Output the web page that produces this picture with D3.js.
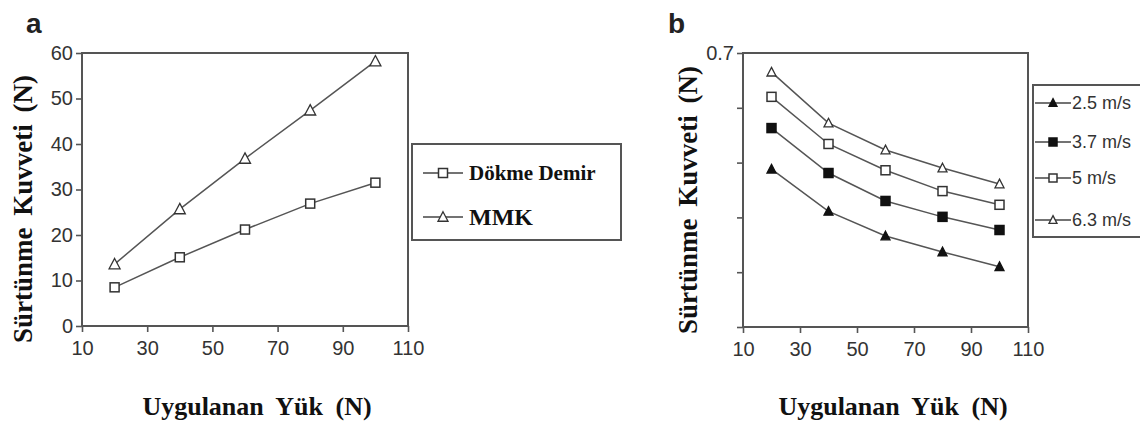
<!DOCTYPE html>
<html>
<head>
<meta charset="utf-8">
<script src="https://cdn.jsdelivr.net/npm/d3@7"></script>
<style>
  html, body { margin: 0; padding: 0; background: #fff; }
  svg { display: block; }
</style>
</head>
<body>
<div id="chart"></div>
<script>
// ---------- data ----------
var loadA = [20, 40, 60, 80, 100];
var dokmeDemir = [8.5, 15.1, 21.2, 26.9, 31.5];
var mmk = [13.6, 25.7, 36.8, 47.4, 58.2];
var xTicks = [10, 30, 50, 70, 90, 110];
var yTicksA = [0, 10, 20, 30, 40, 50, 60];

var loadB = [20, 40, 60, 80, 100];
var v25 = [0.488, 0.411, 0.366, 0.337, 0.310];
var v37 = [0.563, 0.481, 0.430, 0.401, 0.377];
var v50 = [0.620, 0.534, 0.486, 0.448, 0.423];
var v63 = [0.665, 0.572, 0.523, 0.490, 0.461];
var yTicksB = [0.2, 0.3, 0.4, 0.5, 0.6, 0.7];
var speedNames = ['2.5 m/s', '3.7 m/s', '5 m/s', '6.3 m/s'];

var W = 1140, H = 427;
var LINE = '#555', MARK = '#333', TXT = '#333';
var SANS = '"Liberation Sans", Arial, sans-serif';
var SERIF = '"Liberation Serif", "Times New Roman", serif';

var svg = d3.select('#chart').append('svg').attr('width', W).attr('height', H);
svg.append('rect').attr('width', W).attr('height', H).attr('fill', '#fff');

function marker(g, type, cx, cy, s) {
  if (type === 'sq' || type === 'sqf') {
    g.append('rect').attr('x', cx - s / 2).attr('y', cy - s / 2).attr('width', s).attr('height', s)
      .attr('fill', type === 'sqf' ? '#111' : '#fff').attr('stroke', type === 'sqf' ? '#111' : MARK).attr('stroke-width', 1.5);
  } else {
    var h = s * 0.85;
    g.append('path').attr('d', 'M' + cx + ',' + (cy - h / 2 - 1) + 'L' + (cx + s / 2) + ',' + (cy + h / 2) + 'L' + (cx - s / 2) + ',' + (cy + h / 2) + 'Z')
      .attr('fill', type === 'trf' ? '#111' : '#fff').attr('stroke', type === 'trf' ? '#111' : MARK).attr('stroke-width', 1.3).attr('stroke-linejoin', 'miter');
  }
}

function panel(opt) {
  var g = svg.append('g');
  var x = d3.scaleLinear().domain([10, 110]).range(opt.xr);
  var y = d3.scaleLinear().domain(opt.yd).range(opt.yr);

  // axes
  var ax = g.append('g').attr('transform', 'translate(0,' + opt.yr[0] + ')')
    .call(d3.axisBottom(x).tickValues(xTicks).tickSize(6).tickSizeOuter(0).tickPadding(9));
  var ay = g.append('g').attr('transform', 'translate(' + opt.xr[0] + ',0)')
    .call(d3.axisLeft(y).tickValues(opt.yTicks).tickSize(6).tickSizeOuter(0).tickPadding(3).tickFormat(opt.yFmt));
  [ax, ay].forEach(function (a) {
    a.select('.domain').remove();
    a.selectAll('line').attr('stroke', LINE).attr('stroke-width', 1.6);
    a.selectAll('text').attr('fill', TXT).attr('font-family', SANS).attr('font-size', 20);
  });
  // frame
  g.append('rect').attr('x', opt.xr[0]).attr('y', opt.yr[1]).attr('width', opt.xr[1] - opt.xr[0]).attr('height', opt.yr[0] - opt.yr[1])
    .attr('fill', 'none').attr('stroke', LINE).attr('stroke-width', 2);

  // series
  var line = d3.line().x(function (d) { return x(d[0]); }).y(function (d) { return y(d[1]); });
  opt.series.forEach(function (s) {
    var pts = opt.xs.map(function (v, i) { return [v, s.values[i]]; });
    g.append('path').datum(pts).attr('d', line).attr('fill', 'none').attr('stroke', LINE).attr('stroke-width', 1.5);
    pts.forEach(function (p) { marker(g, s.type, x(p[0]), y(p[1]), s.size); });
  });

  // panel letter
  g.append('text').attr('x', opt.letter[0]).attr('y', opt.letter[1]).attr('font-family', SANS).attr('font-weight', 700)
    .attr('font-size', 28).attr('fill', '#222').text(opt.letterText);
  // axis titles
  g.append('text').attr('transform', 'translate(' + opt.yTitle[0] + ',' + opt.yTitle[1] + ') rotate(-90)')
    .attr('text-anchor', 'middle').attr('dy', '0.35em').attr('font-family', SERIF).attr('font-weight', 700).attr('font-size', 27)
    .attr('word-spacing', 5).attr('fill', '#111').text('Sürtünme Kuvveti (N)');
  g.append('text').attr('x', opt.xTitle[0]).attr('y', opt.xTitle[1]).attr('text-anchor', 'middle')
    .attr('font-family', SERIF).attr('font-weight', 700).attr('font-size', 26)
    .attr('word-spacing', 6).attr('fill', '#111').text('Uygulanan Yük (N)');
  return g;
}

// ---------- panel a ----------
panel({
  xr: [82, 408], yr: [326, 53], yd: [0, 60], yTicks: yTicksA, yFmt: d3.format('d'),
  xs: loadA,
  series: [
    { values: dokmeDemir, type: 'sq', size: 9 },
    { values: mmk, type: 'tr', size: 11 }
  ],
  letter: [26, 33], letterText: 'a', yTitle: [23, 209], xTitle: [257, 415]
});

// legend a
var la = svg.append('g');
la.append('rect').attr('x', 412).attr('y', 144).attr('width', 209).attr('height', 96)
  .attr('fill', '#fff').attr('stroke', LINE).attr('stroke-width', 2);
[{ name: 'Dökme Demir', type: 'sq', y: 173, fs: 21, s: 9 }, { name: 'MMK', type: 'tr', y: 217, fs: 24, s: 10 }].forEach(function (d) {
  la.append('line').attr('x1', 423).attr('x2', 463).attr('y1', d.y).attr('y2', d.y).attr('stroke', '#444').attr('stroke-width', 1.6);
  marker(la, d.type, 443, d.y, d.s);
  la.append('text').attr('x', 469).attr('y', d.y).attr('dy', '0.35em').attr('font-family', SERIF).attr('font-weight', 700)
    .attr('font-size', d.fs).attr('fill', '#111').text(d.name);
});

// ---------- panel b ----------
var speedTypes = ['trf', 'sqf', 'sq', 'tr'];
var speedVals = [v25, v37, v50, v63];
panel({
  xr: [743, 1028], yr: [327, 53], yd: [0.2, 0.7], yTicks: yTicksB,
  yFmt: function (d) { return Math.abs(d - 0.7) < 1e-9 ? '0.7' : ''; },
  xs: loadB,
  series: speedVals.map(function (v, i) { return { values: v, type: speedTypes[i], size: 9 }; }),
  letter: [668, 33], letterText: 'b', yTitle: [688, 200], xTitle: [893, 415]
});

// legend b
var lb = svg.append('g');
lb.append('rect').attr('x', 1033).attr('y', 85).attr('width', 120).attr('height', 152)
  .attr('fill', '#fff').attr('stroke', LINE).attr('stroke-width', 2);
var legY = [103, 142, 178, 220];
speedNames.forEach(function (n, i) {
  lb.append('line').attr('x1', 1035).attr('x2', 1071).attr('y1', legY[i]).attr('y2', legY[i]).attr('stroke', '#444').attr('stroke-width', 1.6);
  marker(lb, speedTypes[i], 1053, legY[i], 8);
  lb.append('text').attr('x', 1072).attr('y', legY[i]).attr('dy', '0.35em').attr('font-family', SANS)
    .attr('font-size', 18).attr('fill', TXT).text(n);
});
</script>
</body>
</html>
